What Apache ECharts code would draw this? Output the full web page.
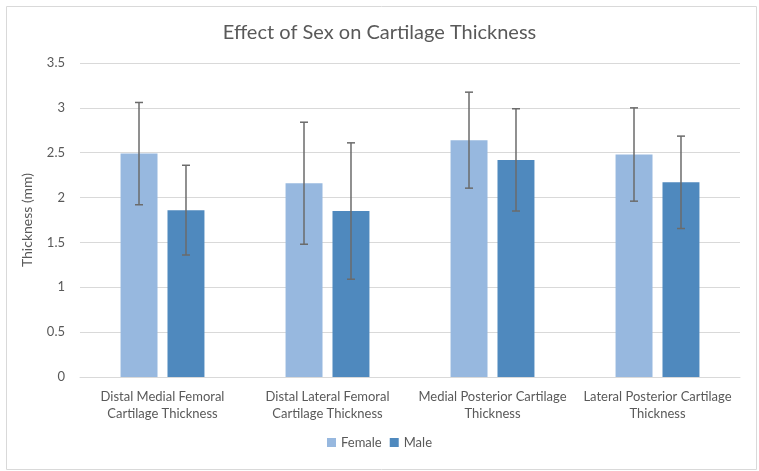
<!DOCTYPE html>
<html>
<head>
<meta charset="utf-8">
<script src="https://cdn.jsdelivr.net/npm/echarts@6/dist/echarts.min.js"></script>
<style>html,body{margin:0;padding:0;background:#fff}#c{width:759px;height:471px}</style>
</head>
<body>
<div id="c"></div>
<script>
const categories = [
  'Distal Medial Femoral\nCartilage Thickness',
  'Distal Lateral Femoral\nCartilage Thickness',
  'Medial Posterior Cartilage\nThickness',
  'Lateral Posterior Cartilage\nThickness'
];
const femaleValues = [2.49, 2.16, 2.64, 2.48];
const maleValues = [1.86, 1.85, 2.42, 2.17];
const femaleErr = [0.57, 0.68, 0.535, 0.52];
const maleErr = [0.50, 0.76, 0.57, 0.515];
const yTicks = [0, 0.5, 1, 1.5, 2, 2.5, 3, 3.5];

const FONT = 'Lato';
const TXT = '#595959';
const OFFSET = 0.1424;

function errSeries(name, values, errs, offset) {
  return {
    type: 'custom',
    name: name + ' err',
    data: values.map((v, i) => [i, v - errs[i], v + errs[i]]),
    z: 10,
    silent: true,
    tooltip: {show: false},
    renderItem: function (params, api) {
      const i = api.value(0);
      const lo = api.coord([i, api.value(1)]);
      const hi = api.coord([i, api.value(2)]);
      const band = api.size([1, 0])[0];
      const x = lo[0] + offset * band;
      const cap = 4;
      const style = {stroke: '#6b6b6b', lineWidth: 1.5};
      return {
        type: 'group',
        children: [
          {type: 'line', shape: {x1: x, y1: lo[1], x2: x, y2: hi[1]}, style: style},
          {type: 'line', shape: {x1: x - cap, y1: lo[1], x2: x + cap, y2: lo[1]}, style: style},
          {type: 'line', shape: {x1: x - cap, y1: hi[1], x2: x + cap, y2: hi[1]}, style: style}
        ]
      };
    }
  };
}

const chart = echarts.init(document.getElementById('c'), null, {renderer: 'canvas'});
chart.setOption({
  animation: false,
  textStyle: {fontFamily: FONT},
  graphic: [{
    type: 'rect', left: 4, top: 4, z: -1,
    shape: {width: 750, height: 463},
    style: {fill: 'none', stroke: '#d9d9d9', lineWidth: 1}
  }],
  title: {
    text: 'Effect of Sex on Cartilage Thickness',
    left: 'center', top: 18,
    textStyle: {fontFamily: FONT, fontSize: 20, fontWeight: 'normal', color: TXT}
  },
  legend: {
    data: ['Female', 'Male'],
    bottom: 17, left: 'center',
    itemWidth: 9, itemHeight: 9, itemGap: 8,
    icon: 'rect',
    textStyle: {fontFamily: FONT, fontSize: 13, color: TXT}
  },
  grid: {left: 80, right: 19, top: 63, bottom: 94, containLabel: false},
  xAxis: {
    type: 'category',
    data: categories,
    axisLine: {lineStyle: {color: '#d9d9d9'}},
    axisTick: {show: false},
    axisLabel: {color: TXT, fontSize: 13, lineHeight: 17, margin: 11, fontFamily: FONT, interval: 0}
  },
  yAxis: {
    type: 'value',
    min: yTicks[0], max: yTicks[yTicks.length - 1], interval: 0.5,
    name: 'Thickness (mm)', nameLocation: 'middle', nameGap: 46, nameRotate: 90,
    nameTextStyle: {color: TXT, fontSize: 14, fontFamily: FONT},
    axisLine: {show: false},
    axisTick: {show: false},
    splitLine: {lineStyle: {color: '#d9d9d9'}},
    axisLabel: {color: TXT, fontSize: 13, margin: 15, fontFamily: FONT}
  },
  series: [
    {name: 'Female', type: 'bar', data: femaleValues, barWidth: '22.4%', barGap: '27%',
     itemStyle: {color: '#97B8DF'}},
    {name: 'Male', type: 'bar', data: maleValues, barWidth: '22.4%',
     itemStyle: {color: '#4F89BE'}},
    errSeries('Female', femaleValues, femaleErr, -OFFSET),
    errSeries('Male', maleValues, maleErr, OFFSET)
  ]
});
</script>
</body>
</html>
